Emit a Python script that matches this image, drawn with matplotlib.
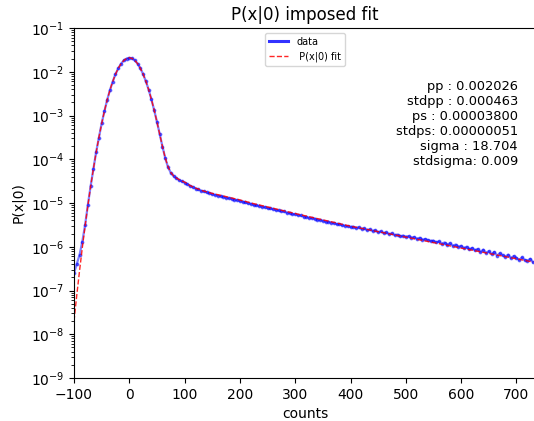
import matplotlib
matplotlib.use("Agg")
import matplotlib.pyplot as plt
from matplotlib.lines import Line2D

# ---- data ----
data_x = list(range(-100, 735, 5))
data_y = [
    2.5e-7, 4.0e-7, 6.5e-7, 1.3e-6, 3.1e-6, 8.9e-6, 2.4e-5, 5.9e-5, 1.45e-4, 3.1e-4,
    6.6e-4, 1.25e-3, 2.28e-3, 3.80e-3, 5.97e-3, 8.78e-3, 1.19e-2, 1.52e-2, 1.81e-2, 2.00e-2,
    2.08e-2, 2.01e-2, 1.82e-2, 1.53e-2, 1.20e-2, 8.85e-3, 6.0e-3, 3.9e-3, 2.33e-3, 1.32e-3,
    7.2e-4, 3.75e-4, 1.95e-4, 1.06e-4, 6.6e-5, 4.9e-5, 4.15e-5, 3.7e-5, 3.36e-5, 3.12e-5,
    2.94e-5,
    2.68e-5, 2.45e-5, 2.31e-5, 2.14e-5, 2.04e-5, 1.90e-5, 1.84e-5, 1.74e-5, 1.69e-5, 1.59e-5,
    1.54e-5, 1.48e-5, 1.44e-5, 1.39e-5, 1.32e-5, 1.29e-5, 1.25e-5, 1.19e-5, 1.17e-5, 1.11e-5,
    1.08e-5, 1.03e-5, 9.8e-6, 9.6e-6, 9.1e-6, 8.9e-6, 8.6e-6, 8.2e-6, 8.1e-6, 7.6e-6,
    7.5e-6, 7.3e-6, 6.9e-6, 6.8e-6, 6.5e-6, 6.4e-6, 6.0e-6, 5.95e-6, 5.6e-6, 5.55e-6,
    5.3e-6, 5.2e-6, 4.9e-6, 4.85e-6, 4.6e-6, 4.55e-6, 4.4e-6, 4.15e-6, 4.1e-6, 3.95e-6,
    3.75e-6, 3.75e-6, 3.55e-6, 3.5e-6, 3.3e-6, 3.3e-6, 3.1e-6, 3.05e-6, 2.95e-6, 2.85e-6,
    2.88e-6, 2.70e-6, 2.78e-6, 2.55e-6, 2.62e-6, 2.40e-6, 2.50e-6, 2.30e-6, 2.36e-6, 2.15e-6,
    2.24e-6, 2.05e-6, 2.12e-6, 1.94e-6, 2.02e-6, 1.84e-6, 1.90e-6, 1.72e-6, 1.80e-6, 1.70e-6,
    1.74e-6, 1.62e-6, 1.66e-6, 1.52e-6, 1.60e-6, 1.45e-6, 1.50e-6, 1.42e-6, 1.36e-6, 1.38e-6,
    1.26e-6, 1.32e-6, 1.18e-6, 1.25e-6, 1.12e-6, 1.20e-6, 1.06e-6, 1.12e-6, 1.00e-6, 1.05e-6,
    9.3e-7, 1.00e-6, 8.7e-7, 9.4e-7, 8.3e-7, 8.9e-7, 7.6e-7, 8.6e-7, 7.2e-7, 7.9e-7,
    6.8e-7, 7.6e-7, 6.3e-7, 7.1e-7, 6.4e-7, 5.9e-7, 6.6e-7, 5.5e-7, 6.1e-7, 5.6e-7,
    5.0e-7, 5.7e-7, 5.0e-7, 4.8e-7, 5.3e-7, 4.4e-7,
]

fit_x = list(range(-100, 105, 5)) + [110, 120, 135, 150, 175, 200, 225, 250, 275, 300,
                                      325, 350, 375, 400, 425, 450, 475, 500, 525, 550,
                                      575, 600, 625, 650, 675, 700, 730]
fit_y = [
    2.0e-8, 7.8e-8, 2.8e-7, 9.4e-7, 2.94e-6, 8.6e-6, 2.35e-5, 5.98e-5, 1.421e-4, 3.15e-4,
    6.52e-4, 1.259e-3, 2.268e-3, 3.813e-3, 5.98e-3, 8.75e-3, 1.195e-2, 1.523e-2, 1.811e-2, 2.009e-2,
    2.086e-2, 2.015e-2, 1.817e-2, 1.529e-2, 1.201e-2, 8.81e-3, 6.04e-3, 3.87e-3, 2.328e-3, 1.319e-3,
    7.12e-4, 3.72e-4, 1.94e-4, 1.07e-4, 6.75e-5, 5.0e-5, 4.2e-5, 3.75e-5, 3.43e-5, 3.2e-5,
    3.0e-5,
    2.51e-5, 2.19e-5, 1.87e-5, 1.66e-5, 1.40e-5, 1.175e-5, 9.66e-6, 8.13e-6, 6.84e-6, 5.75e-6,
    4.87e-6, 4.12e-6, 3.49e-6, 2.95e-6, 2.56e-6, 2.21e-6, 1.92e-6, 1.66e-6, 1.44e-6, 1.245e-6,
    1.08e-6, 9.33e-7, 8.11e-7, 7.03e-7, 6.11e-7, 5.31e-7, 4.47e-7,
]

xticks = [-100, 0, 100, 200, 300, 400, 500, 600, 700]
param_text = ("pp : 0.002026\nstdpp : 0.000463\nps : 0.00003800\n"
              "stdps: 0.00000051\nsigma : 18.704\nstdsigma: 0.009")

# ---- figure ----
fig = plt.figure(figsize=(5.34, 4.21), dpi=100)
ax = fig.add_axes([74 / 534, 43 / 421, 462 / 534, 350 / 421])

ax.plot(data_x, data_y, linestyle="-", linewidth=1.6, marker=".", color="blue",
        markersize=3.5, alpha=0.5)
ax.plot(fit_x, fit_y, linestyle="--", color="red", linewidth=1.0, alpha=0.85)

ax.set_yscale("log")
ax.set_ylim(1e-9, 1e-1)
ax.set_xlim(-100, 735.4)
ax.set_xticks(xticks)
ax.set_xlabel("counts")
ax.set_ylabel("P(x|0)")
ax.set_title("P(x|0) imposed fit")
ax.spines["right"].set_visible(False)

handles = [Line2D([], [], color="blue", linewidth=2.2, alpha=0.8),
           Line2D([], [], color="red", linestyle="--", linewidth=1.0, alpha=0.85)]
ax.legend(handles, ["data", " P(x|0) fit"], loc="upper center", fontsize=7)

fig.text(518 / 534, 1 - 80 / 421, param_text, ha="right", va="top",
         multialignment="right", fontsize=9.4, linespacing=1.2)

fig.savefig("out.png", dpi=100)
